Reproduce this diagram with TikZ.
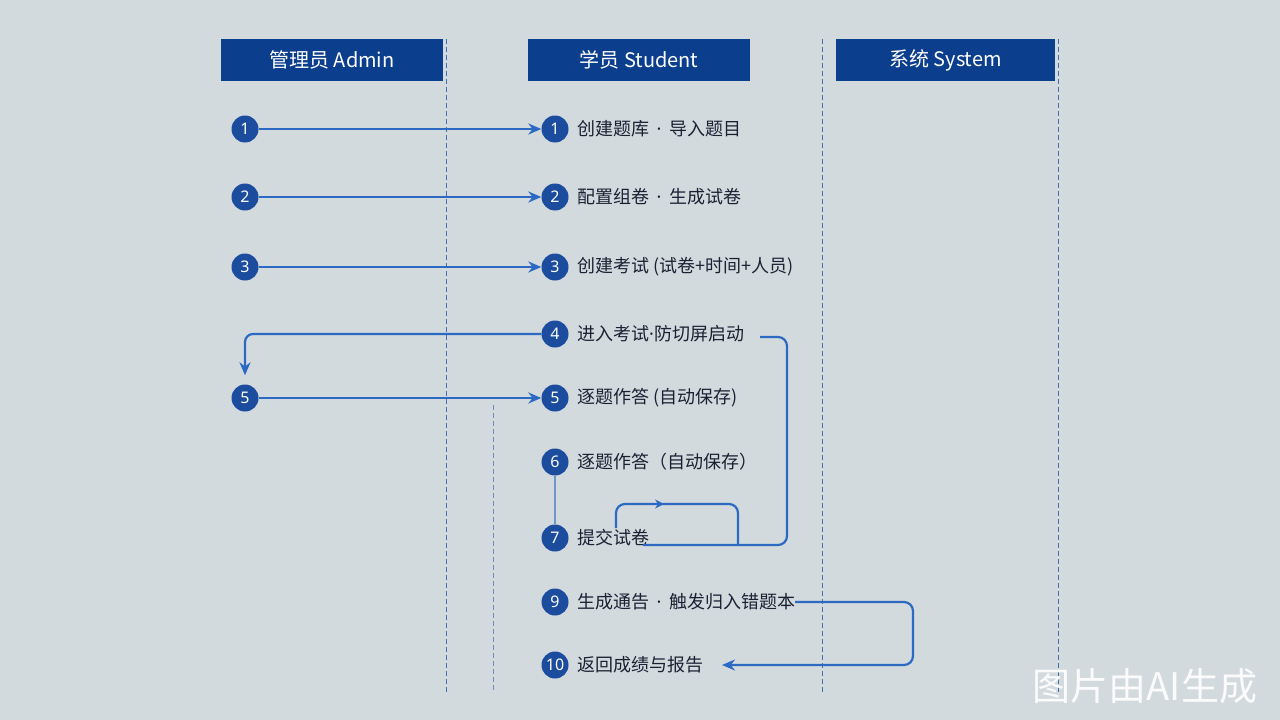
\documentclass[tikz,border=0pt]{standalone}
\usepackage{fontspec}
\setmainfont{Noto Sans CJK SC}
\newfontfamily\latinfont{Noto Sans}
\usetikzlibrary{arrows.meta,decorations.markings}
\definecolor{bg}{HTML}{D3DADE}
\definecolor{hdr}{HTML}{0C3E8E}
\definecolor{circ}{HTML}{1B4C9E}
\definecolor{arrc}{HTML}{2B69C2}
\definecolor{lanec}{HTML}{3F6FB3}
\definecolor{txt}{HTML}{1B2133}
\newcommand{\mdot}{{\latinfont\hspace{7.5pt}·\hspace{7.5pt}}}
\tikzset{
  hdrbox/.style={fill=hdr, minimum width=222pt, minimum height=42pt, inner sep=0pt, text=white, font=\fontsize{20}{22}\selectfont},
  num/.style={circle, fill=circ, minimum size=27pt, inner sep=0pt, text=white, font=\latinfont\fontsize{16}{16}\selectfont},
  lbl/.style={anchor=west, text=txt, inner sep=0pt, font=\fontsize{18}{20}\selectfont},
  lane/.style={draw=lanec, line width=1pt, dash pattern=on 5pt off 3pt},
  arr/.style={draw=arrc, line width=2.2pt, -{Stealth[length=13pt,width=11pt]}},
  wire/.style={draw=arrc, line width=2.2pt},
}
\begin{document}
\begin{tikzpicture}[x=1pt,y=-1pt]
\fill[bg] (0,0) rectangle (1280,720);
\useasboundingbox (0,0) rectangle (1280,720);
% lanes
\draw[lane] (446,39) -- (446,693);
\draw[lane] (822,39) -- (822,693);
\draw[lane] (1058,39) -- (1058,693);
\draw[lane, draw=lanec!70!bg] (493,405) -- (493,693);
% headers
\node[hdrbox] (hA) at (332,60) {管理员 Admin};
\node[hdrbox] (hS) at (639,60) {学员 Student};
\node[hdrbox, minimum width=219pt] (hY) at (945.5,60) {系统 System};
% admin circles
\node[num] (a1) at (245,129) {1};
\node[num] (a2) at (245,197) {2};
\node[num] (a3) at (245,267) {3};
\node[num] (a5) at (245,398) {5};
% student circles
\node[num] (s1) at (555,129) {1};
\node[num] (s2) at (555,197) {2};
\node[num] (s3) at (555,267) {3};
\node[num] (s4) at (555,334) {4};
\node[num] (s5) at (555,398) {5};
\node[num] (s6) at (555,462) {6};
\node[num] (s7) at (555,538) {7};
\node[num] (s9) at (555,602) {9};
\node[num] (s10) at (555,665) {10};
% labels
\node[lbl] (t1) at (577,129) {创建题库\mdot 导入题目};
\node[lbl] (t2) at (577,197) {配置组卷\mdot 生成试卷};
\node[lbl] (t3) at (577,267) {创建考试 (试卷+时间+人员)};
\node[lbl] (t4) at (577,334) {进入考试{\latinfont·}防切屏启动};
\node[lbl] (t5) at (577,398) {逐题作答 (自动保存)};
\node[lbl] (t6) at (577,462) {逐题作答（自动保存）};
\node[lbl] (t7) at (577,538) {提交试卷};
\node[lbl] (t9) at (577,602) {生成通告\mdot 触发归入错题本};
\node[lbl] (t10) at (577,665) {返回成绩与报告};
% arrows admin -> student
\draw[arr] (a1) -- (s1);
\draw[arr] (a2) -- (s2);
\draw[arr] (a3) -- (s3);
\draw[arr] (a5) -- (s5);
% arrow 4 back to admin
\draw[arr, rounded corners=8pt, shorten >=9pt] (s4.west) -| (a5.north);
% link 6-7
\draw[draw=arrc!60!bg, line width=1.2pt] (s6.south) -- (s7.north);
% return loop from 4 to 7
\coordinate (r4) at (760,337);
\coordinate (rc) at (787,337);
\coordinate (rb) at (787,545);
\coordinate (r7) at (643,545);
\draw[wire, rounded corners=9pt] (r4) -- (rc) -- (rb) -- (r7);
% small loop at 7
\coordinate (l0) at (616,528);
\coordinate (l1) at (616,504);
\coordinate (l2) at (738,504);
\coordinate (l3) at (738,545);
\draw[wire, rounded corners=9pt, decoration={markings, mark=at position 0.38 with {\arrow{Stealth[length=9pt,width=9pt]}}}, postaction={decorate}] (l0) -- (l1) -- (l2) -- (l3);
% arrow 9 -> 10
\coordinate (n9) at (913,602);
\coordinate (n10) at (913,665);
\draw[arr, rounded corners=9pt] (t9.east) -- (n9) -- (n10) -- (722,665);
% watermark
\node[text=white!90!bg, font=\fontsize{38}{38}\selectfont, anchor=center] (wm) at (1145,686) {图片由AI生成};
\end{tikzpicture}
\end{document}
